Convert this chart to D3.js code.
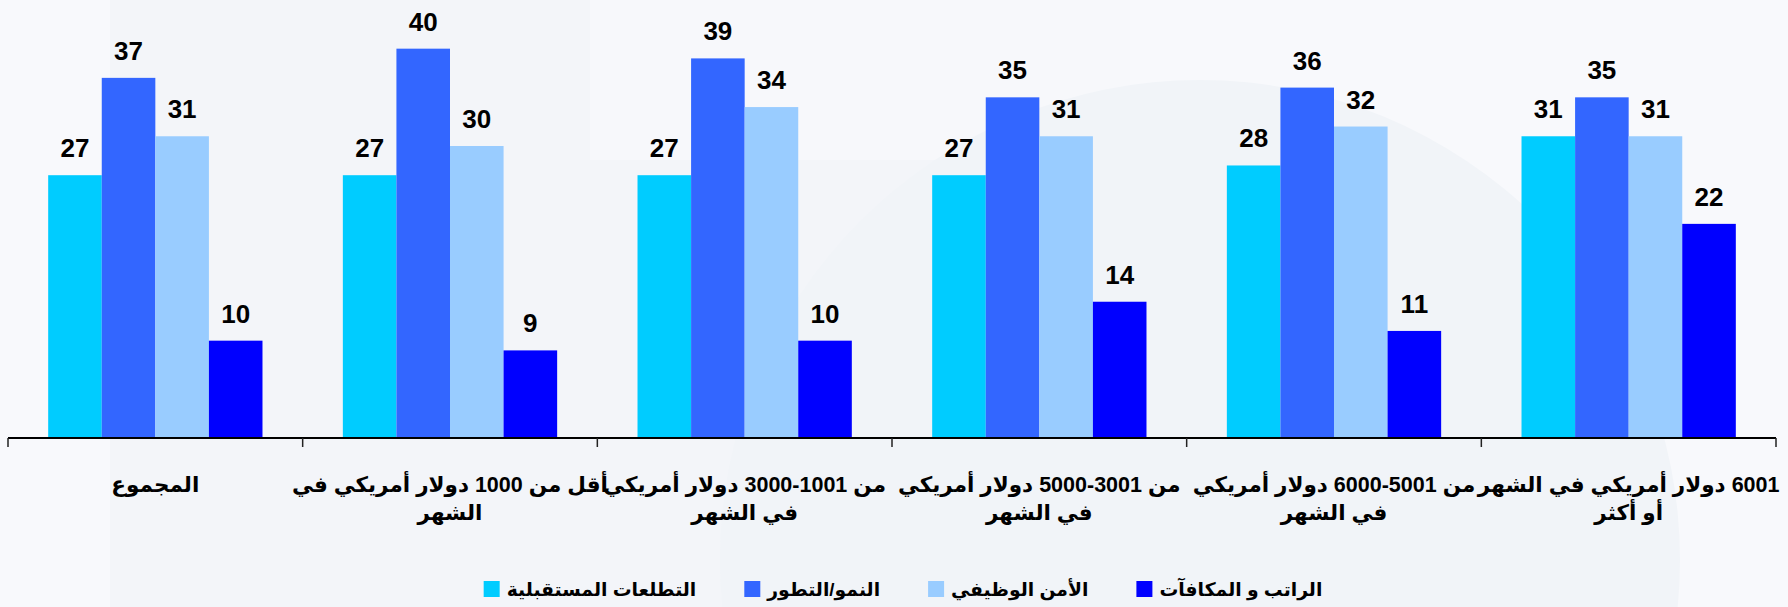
<!DOCTYPE html>
<html lang="ar">
<head>
<meta charset="utf-8">
<script src="https://cdn.jsdelivr.net/npm/d3@7/dist/d3.min.js"></script>
<style>
  html, body { margin: 0; padding: 0; background: #f7f8fb; }
  svg { display: block; }
  text { font-family: "Liberation Sans", Arial, "DejaVu Sans", sans-serif; font-weight: bold; fill: #000; }
</style>
</head>
<body>
<svg id="chart" width="1788" height="607"></svg>
<script>
// Salary brackets (each entry is the label split into its display lines)
const categories = [
  ["المجموع"],
  ["أقل من 1000 دولار أمريكي في", "الشهر"],
  ["من 1001\u200F-3000 دولار أمريكي", "في الشهر"],
  ["من 3001\u200F-5000 دولار أمريكي", "في الشهر"],
  ["من 5001\u200F-6000 دولار أمريكي", "في الشهر"],
  ["6001 دولار أمريكي في الشهر", "أو أكثر"]
];

// Series names, in legend order
const seriesNames = ["التطلعات المستقبلية", "النمو/التطور", "الأمن الوظيفي", "الراتب و المكافآت"];

// Percentages per series, one value per salary bracket
const futureProspects = [27, 27, 27, 27, 28, 31];
const growth          = [37, 40, 39, 35, 36, 35];
const jobSecurity     = [31, 30, 34, 31, 32, 31];
const salaryRewards   = [10, 9, 10, 14, 11, 22];

const seriesValues = [futureProspects, growth, jobSecurity, salaryRewards];
const seriesColors = ["#00CCFF", "#3366FF", "#99CCFF", "#0000FF"];

const svg = d3.select("#chart");
const W = 1788, H = 607;

// Soft background panels
const bg = svg.append("g");
bg.append("rect").attr("width", W).attr("height", H).attr("fill", "#f8f9fc");
bg.append("rect").attr("x", 110).attr("y", 0).attr("width", 1020).attr("height", H).attr("fill", "#f3f5f9");
bg.append("rect").attr("x", 590).attr("y", 0).attr("width", 540).attr("height", 160).attr("fill", "#f7f8fb");
bg.append("circle").attr("cx", 1200).attr("cy", 560).attr("r", 480).attr("fill", "#f1f4f8");
bg.append("rect").attr("x", 0).attr("y", 0).attr("width", 110).attr("height", H).attr("fill", "#f8f9fc");

const plot = { left: 8, right: 1776, base: 438, top: 0 };

const idx = d3.range(categories.length);
const x0 = d3.scaleBand().domain(idx).range([plot.left, plot.right]).padding(0);
const x1 = d3.scaleBand().domain(d3.range(seriesNames.length))
  .range([0, x0.bandwidth()]).paddingInner(0).paddingOuter(0.75);
const y = d3.scaleLinear().domain([0, 45]).range([plot.base, plot.top]);

// Bars and value labels
const groups = svg.append("g").selectAll("g").data(idx).join("g")
  .attr("transform", i => `translate(${x0(i)},0)`);

const cells = groups.selectAll("g.cell")
  .data(i => seriesValues.map((vals, s) => ({ s, v: vals[i] })))
  .join("g").attr("class", "cell");

cells.append("rect")
  .attr("x", d => x1(d.s))
  .attr("y", d => y(d.v))
  .attr("width", x1.bandwidth())
  .attr("height", d => y(0) - y(d.v))
  .attr("fill", d => seriesColors[d.s]);

cells.append("text")
  .attr("x", d => x1(d.s) + x1.bandwidth() / 2)
  .attr("y", d => y(d.v) - 18)
  .attr("text-anchor", "middle")
  .style("font-size", "26px")
  .text(d => d.v);

// Category axis: baseline and boundary ticks
const axis = svg.append("g");
axis.append("line")
  .attr("x1", plot.left).attr("x2", plot.right)
  .attr("y1", plot.base).attr("y2", plot.base)
  .attr("stroke", "#000").attr("stroke-width", 2);
const bounds = idx.map(i => x0(i)).concat([plot.right]);
axis.selectAll("line.tick").data(bounds).join("line").attr("class", "tick")
  .attr("x1", d => d).attr("x2", d => d)
  .attr("y1", plot.base).attr("y2", plot.base + 9)
  .attr("stroke", "#222").attr("stroke-width", 1.5);

// Category labels
const catLabels = svg.append("g").selectAll("text").data(idx).join("text")
  .attr("text-anchor", "middle")
  .attr("direction", "rtl")
  .style("font-size", "21.5px");
catLabels.selectAll("tspan").data(i => categories[i].map(t => ({ t, i })))
  .join("tspan")
  .attr("x", d => x0(d.i) + x0.bandwidth() / 2)
  .attr("y", (d, k) => 492 + k * 28)
  .text(d => d.t);

// Legend, laid out left to right and centred
const legend = svg.append("g");
const items = legend.selectAll("g").data(seriesNames).join("g");
items.append("rect").attr("width", 16).attr("height", 16).attr("y", 581)
  .attr("fill", (d, i) => seriesColors[i]);
items.append("text").attr("y", 596).attr("direction", "rtl").attr("text-anchor", "end")
  .style("font-size", "18.8px").text(d => d);
const widths = [];
items.select("text").each(function () { widths.push(this.getComputedTextLength()); });
const markerGap = 7, itemGap = 48;
const total = d3.sum(widths) + widths.length * (16 + markerGap) + (widths.length - 1) * itemGap;
let cx = 903 - total / 2;
items.each(function (d, i) {
  const g = d3.select(this);
  g.select("rect").attr("x", cx);
  g.select("text").attr("x", cx + 16 + markerGap);
  cx += 16 + markerGap + widths[i] + itemGap;
});
</script>
</body>
</html>
